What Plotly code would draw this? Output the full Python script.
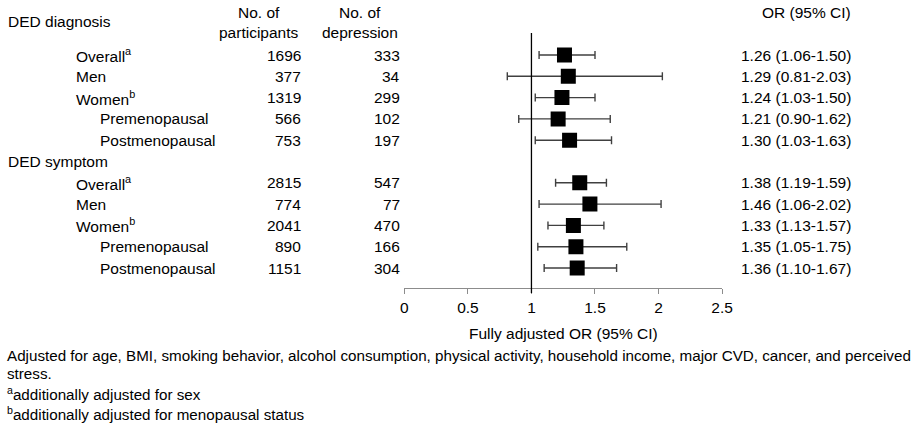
import plotly.graph_objects as go

# ---- data ----
group_names = ["DED diagnosis", "DED symptom"]
sub_labels = ["Overall<sup>a</sup>", "Men", "Women<sup>b</sup>", "Premenopausal", "Postmenopausal"]
sub_indent = [0, 0, 0, 1, 1]
participants = [1696, 377, 1319, 566, 753, 2815, 774, 2041, 890, 1151]
depression = [333, 34, 299, 102, 197, 547, 77, 470, 166, 304]
or_vals = [1.26, 1.29, 1.24, 1.21, 1.30, 1.38, 1.46, 1.33, 1.35, 1.36]
ci_low = [1.06, 0.81, 1.03, 0.90, 1.03, 1.19, 1.06, 1.13, 1.05, 1.10]
ci_high = [1.50, 2.03, 1.50, 1.62, 1.63, 1.59, 2.02, 1.57, 1.75, 1.67]
x_ticks = [0, 0.5, 1, 1.5, 2, 2.5]
x_tick_labels = ["0", "0.5", "1", "1.5", "2", "2.5"]
footnotes = [
    "Adjusted for age, BMI, smoking behavior, alcohol consumption, physical activity, household income, major CVD, cancer, and perceived",
    "stress.",
    "<sup>a</sup>additionally adjusted for sex",
    "<sup>b</sup>additionally adjusted for menopausal status",
]

W, H = 919, 428
FONT = "Liberation Sans, Arial, sans-serif"
FS = 15.5

def px(x):
    return x / W

def py(y):
    return 1 - y / H

# row layout: group header rows then 5 subgroup rows each
ROW0_PX, ROW_STEP = 55.0, 21.3
rows = []
header_rows = []
r = 0
for g in range(len(group_names)):
    if g > 0:
        header_rows.append(r)
        r += 1
    else:
        header_rows.append(-1.55)
    for k in range(len(sub_labels)):
        rows.append(r)
        r += 1

y_top = -ROW0_PX / ROW_STEP
y_bot = y_top + H / ROW_STEP

fig = go.Figure()
fig.add_trace(go.Scatter(
    x=or_vals, y=rows, mode="markers",
    marker=dict(symbol="square", size=15, color="#000000"),
    error_x=dict(type="data", symmetric=False,
                 array=[h - o for h, o in zip(ci_high, or_vals)],
                 arrayminus=[o - l for o, l in zip(or_vals, ci_low)],
                 color="#404040", thickness=1.4, width=4),
    showlegend=False, hoverinfo="skip",
))

ann = []
def txt(x, y, s, xanchor="left", yref="y", size=FS):
    ann.append(dict(x=x, y=y, xref="paper", yref=yref, text=s, showarrow=False,
                    xanchor=xanchor, yanchor="middle",
                    font=dict(family=FONT, size=size, color="#000000")))

# column headers
txt(px(2), header_rows[0], group_names[0])
txt(px(259), py(12), "No. of", "center", "paper")
txt(px(259), py(32), "participants", "center", "paper")
txt(px(362), py(12), "No. of", "center", "paper")
txt(px(362), py(32), "depression", "center", "paper")
txt(px(863), py(12), "OR (95% CI)", "right", "paper")
txt(px(2), header_rows[1], group_names[1])

i = 0
for g in range(len(group_names)):
    for k, lab in enumerate(sub_labels):
        yv = rows[i]
        txt(px(96 if sub_indent[k] else 71), yv, lab)
        txt(px(304), yv, str(participants[i]), "right")
        txt(px(405), yv, str(depression[i]), "right")
        txt(px(863), yv, f"{or_vals[i]:.2f} ({ci_low[i]:.2f}-{ci_high[i]:.2f})", "right")
        i += 1

txt(px(568.5), py(333), "Fully adjusted OR (95% CI)", "center", "paper")

foot_y = [355, 373, 393, 413]
for s, yy in zip(footnotes, foot_y):
    txt(px(1), py(yy), s, "left", "paper", 15.2)

fig.update_layout(
    width=W, height=H,
    margin=dict(l=0, r=0, t=0, b=0),
    paper_bgcolor="white", plot_bgcolor="white",
    font=dict(family=FONT, size=FS, color="#000000"),
    annotations=ann,
    xaxis=dict(domain=[px(407), px(730)], range=[0, 2.5], tickvals=x_ticks,
               ticktext=x_tick_labels, showline=True, linecolor="#8c8c8c",
               linewidth=1, ticks="outside", ticklen=5, tickcolor="#8c8c8c",
               showgrid=False, zeroline=False, anchor="free", position=py(288),
               tickfont=dict(family=FONT, size=FS, color="#000000")),
    yaxis=dict(domain=[0, 1], range=[y_bot, y_top], visible=False),
    shapes=[dict(type="line", xref="x", yref="paper", x0=1, x1=1,
                 y0=py(33), y1=py(293), line=dict(color="#000000", width=1.3))],
)

fig.write_html("out.html", config={"displayModeBar": False},
               post_script="document.body.style.margin='0';document.body.style.overflow='hidden';")
